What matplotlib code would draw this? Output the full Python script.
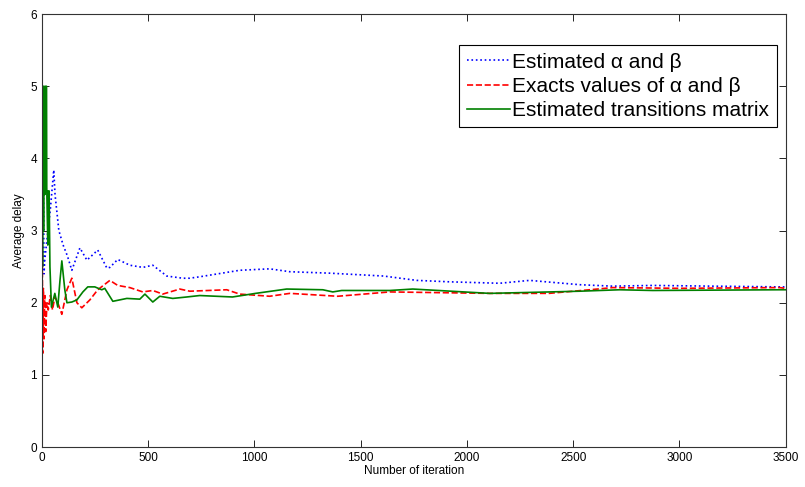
import numpy as np
import matplotlib
matplotlib.use("Agg")
import matplotlib.pyplot as plt

plt.rcParams['font.family'] = ['Liberation Sans', 'DejaVu Sans']

# estimated alpha and beta (blue, dotted)
it_est = [0, 3, 6, 10, 14, 25, 40, 56, 62, 80, 100, 120, 141, 179, 212, 263, 306,
          320, 357, 414, 475, 522, 588, 663, 696, 743, 931, 1072, 1167, 1355, 1609,
          1764, 1919, 2154, 2295, 2531, 2686, 2874, 3156, 3471, 3500]
val_est = [6.6, 3.4, 4.5, 2.4, 2.6, 2.9, 3.3, 3.84, 3.5, 3.0, 2.8, 2.65, 2.45, 2.76,
           2.59, 2.73, 2.48, 2.49, 2.6, 2.52, 2.49, 2.52, 2.37, 2.34, 2.34, 2.36,
           2.45, 2.47, 2.43, 2.41, 2.37, 2.31, 2.29, 2.27, 2.31, 2.25, 2.23, 2.24,
           2.23, 2.22, 2.22]

# exact values of alpha and beta (red, dashed)
it_exact = [0, 2, 4, 7, 10, 14, 18, 24, 30, 40, 50, 61, 75, 94, 118, 141, 165, 188,
            226, 263, 320, 357, 414, 475, 522, 569, 649, 696, 870, 931, 1072, 1167,
            1392, 1637, 2107, 2386, 2578, 2686, 3001, 3471, 3500]
val_exact = [1.25, 2.7, 1.3, 2.2, 1.5, 2.1, 1.6, 2.0, 1.9, 2.1, 1.9, 2.08, 2.0, 1.84,
             2.18, 2.34, 2.0, 1.93, 2.04, 2.18, 2.31, 2.24, 2.21, 2.15, 2.17, 2.12,
             2.19, 2.16, 2.18, 2.12, 2.09, 2.13, 2.09, 2.15, 2.13, 2.13, 2.18, 2.21,
             2.2, 2.21, 2.2]

# estimated transitions matrix (green, solid)
it_mat = [0, 1, 3, 5, 8, 10, 14, 16, 22, 23, 28, 30, 34, 38, 45, 61, 75, 85, 94, 108,
          118, 141, 165, 193, 216, 249, 282, 296, 334, 400, 461, 485, 522, 555, 616,
          682, 743, 897, 1006, 1152, 1322, 1369, 1411, 1637, 1745, 2107, 2531, 2719,
          2874, 3471, 3500]
val_mat = [1.5, 5.0, 2.5, 5.0, 3.0, 5.0, 3.5, 5.0, 5.0, 3.6, 2.8, 3.55, 3.55, 2.5,
           1.94, 2.13, 1.94, 2.3, 2.58, 2.18, 2.0, 2.01, 2.04, 2.15, 2.22, 2.22, 2.18,
           2.2, 2.02, 2.06, 2.05, 2.12, 2.01, 2.09, 2.06, 2.08, 2.1, 2.08, 2.13, 2.19,
           2.18, 2.15, 2.17, 2.17, 2.19, 2.13, 2.16, 2.18, 2.17, 2.18, 2.18]

fig = plt.figure(figsize=(8.05, 4.87), dpi=100)
ax = fig.add_axes([0.052, 0.082, 0.924, 0.889])

ax.plot(it_est, val_est, color='blue', linestyle=':', lw=1.2, label='Estimated α and β')
ax.plot(it_exact, val_exact, color='red', linestyle='--', lw=1.2, label='Exacts values of α and β')
ax.plot(it_mat, val_mat, color=(0, 0.5, 0), linestyle='-', lw=1.2, label='Estimated transitions matrix')

ax.set_xlim(0, 3500)
ax.set_ylim(0, 6)
ax.set_xticks(np.arange(0, 3501, 500))
ax.set_yticks(np.arange(0, 7, 1))
ax.tick_params(direction='in', top=True, right=True, length=5, labelsize=8.5, width=0.6)
for s in ax.spines.values():
    s.set_linewidth(0.8)
    s.set_color('#333333')
ax.set_xlabel('Number of iteration', fontsize=8.5, labelpad=1)
ax.set_ylabel('Average delay', fontsize=8.5, labelpad=4)

leg = ax.legend(loc='upper right', bbox_to_anchor=(0.988, 0.928), fontsize=15,
                fancybox=False, edgecolor='black', framealpha=1,
                handlelength=2.1, handletextpad=0.1, borderpad=0.35, labelspacing=0.25,
                borderaxespad=0)
leg.get_frame().set_linewidth(0.8)

fig.savefig('out.png', dpi=100)
